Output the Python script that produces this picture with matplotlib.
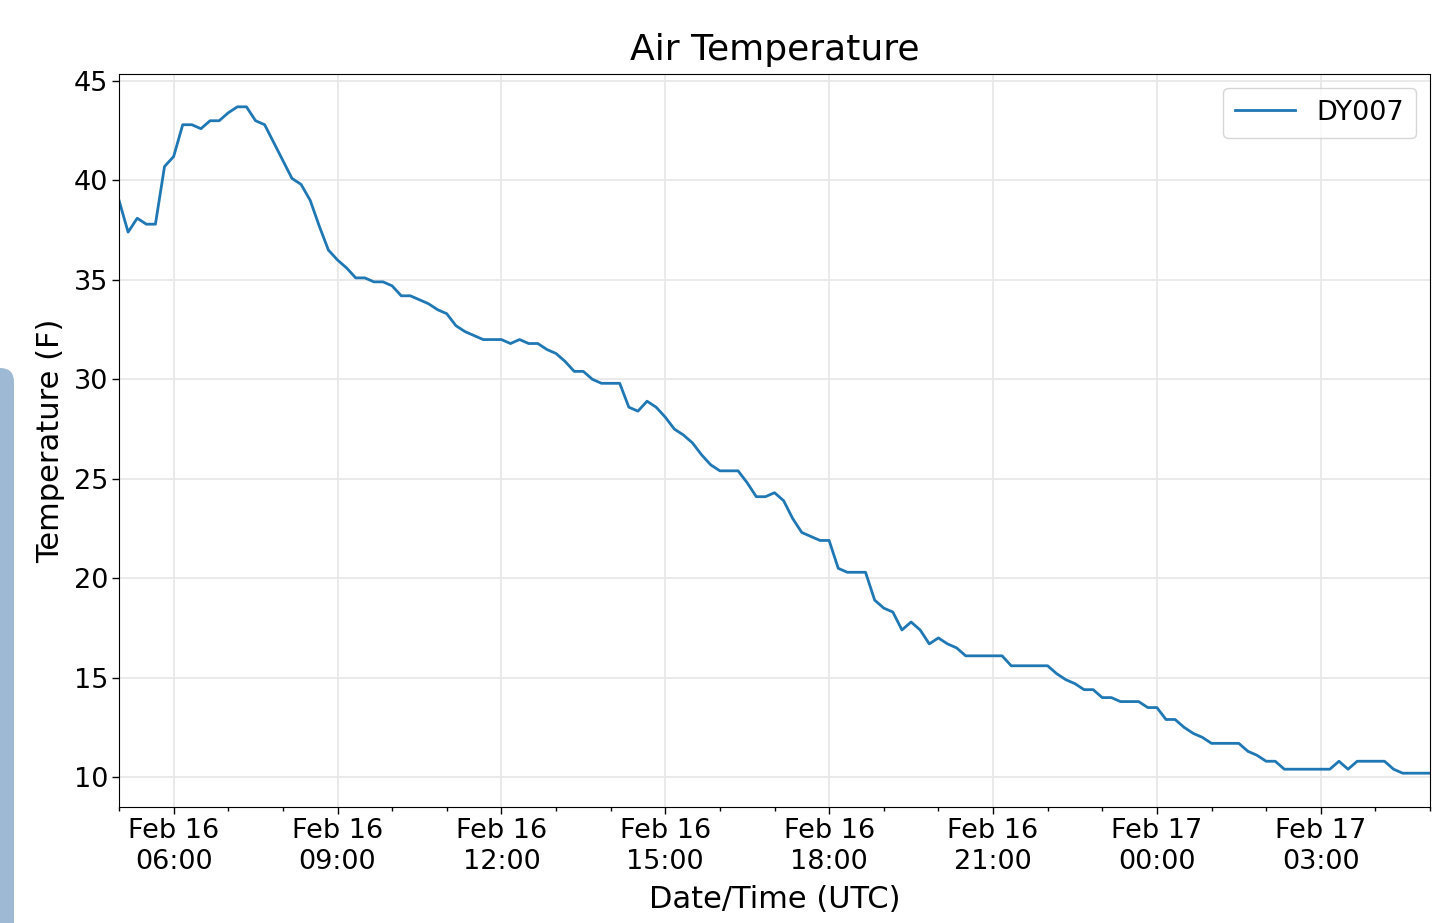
import numpy as np
import pandas as pd
import matplotlib
matplotlib.use('Agg')
import matplotlib.pyplot as plt
import matplotlib.dates as mdates
from matplotlib.patches import FancyBboxPatch

# 10-minute readings, Feb 16 05:00 UTC -> Feb 17 05:00 UTC
start_time = '2019-02-16 05:00'
temps_f = [
    39.0, 37.4, 38.1, 37.8, 37.8, 40.7, 41.2, 42.8, 42.8, 42.6,
    43.0, 43.0, 43.4, 43.7, 43.7, 43.0, 42.8, 41.9, 41.0, 40.1,
    39.8, 39.0, 37.7, 36.5, 36.0, 35.6, 35.1, 35.1, 34.9, 34.9,
    34.7, 34.2, 34.2, 34.0, 33.8, 33.5, 33.3, 32.7, 32.4, 32.2,
    32.0, 32.0, 32.0, 31.8, 32.0, 31.8, 31.8, 31.5, 31.3, 30.9,
    30.4, 30.4, 30.0, 29.8, 29.8, 29.8, 28.6, 28.4, 28.9, 28.6,
    28.1, 27.5, 27.2, 26.8, 26.2, 25.7, 25.4, 25.4, 25.4, 24.8,
    24.1, 24.1, 24.3, 23.9, 23.0, 22.3, 22.1, 21.9, 21.9, 20.5,
    20.3, 20.3, 20.3, 18.9, 18.5, 18.3, 17.4, 17.8, 17.4, 16.7,
    17.0, 16.7, 16.5, 16.1, 16.1, 16.1, 16.1, 16.1, 15.6, 15.6,
    15.6, 15.6, 15.6, 15.2, 14.9, 14.7, 14.4, 14.4, 14.0, 14.0,
    13.8, 13.8, 13.8, 13.5, 13.5, 12.9, 12.9, 12.5, 12.2, 12.0,
    11.7, 11.7, 11.7, 11.7, 11.3, 11.1, 10.8, 10.8, 10.4, 10.4,
    10.4, 10.4, 10.4, 10.4, 10.8, 10.4, 10.8, 10.8, 10.8, 10.8,
    10.4, 10.2, 10.2, 10.2, 10.2,
]
times = pd.date_range(start_time, periods=len(temps_f), freq='10min')
station = 'DY007'

fig = plt.figure(figsize=(14.4, 9.23), dpi=100)
ax = fig.add_axes([119/1440, 1 - 807/923, (1430-119)/1440, (807-74)/923])

ax.plot(times, temps_f, color='#1f77b4', lw=2.0, label=station)

ax.set_xlim(times[0], times[-1])
ax.set_ylim(8.5, 45.35)
ax.set_yticks([10, 15, 20, 25, 30, 35, 40, 45])

ax.xaxis.set_major_locator(mdates.HourLocator(byhour=range(0, 24, 3)))
ax.xaxis.set_minor_locator(mdates.HourLocator())
ax.xaxis.set_major_formatter(mdates.DateFormatter('%b %d\n%H:%M'))

ax.grid(True, color='#e8e8e8', lw=1.3)
ax.tick_params(axis='both', which='major', labelsize=19.5, length=5, width=1, pad=3)
ax.tick_params(axis='x', which='minor', length=3, width=1)
for lbl in ax.get_xticklabels():
    lbl.set_ha('center')
    lbl.set_linespacing(1.25)

ax.set_title('Air Temperature', fontsize=26, pad=10)
ax.set_xlabel('Date/Time (UTC)', fontsize=22, labelpad=7)
ax.set_ylabel('Temperature (F)', fontsize=22, labelpad=6)

ax.legend(loc='upper right', fontsize=19.5, handlelength=2.2, borderpad=0.45,
          framealpha=0.8, edgecolor='#cccccc')

# bluish screen element on the left edge of the screenshot (pixel coords)
fig.patches.append(FancyBboxPatch((-40, -40), 54, 40 + 923 - 368,
                                  boxstyle='round,pad=0,rounding_size=14',
                                  transform=None, facecolor='#9db9d4',
                                  edgecolor='none', zorder=0))

fig.savefig('out.png', dpi=100)
